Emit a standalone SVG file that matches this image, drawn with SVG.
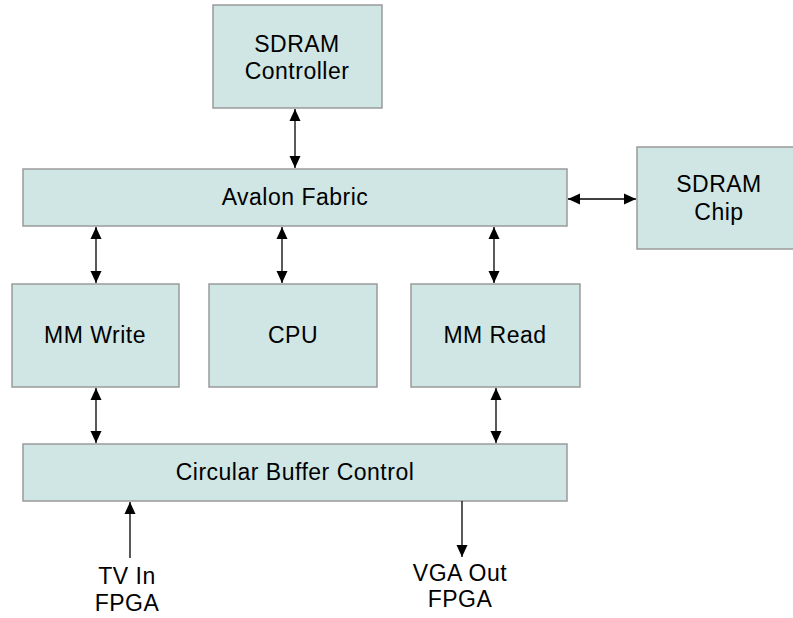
<svg xmlns="http://www.w3.org/2000/svg" width="793" height="618" viewBox="0 0 793 618">
<style>
.box{fill:#cfe6e4;stroke:#9a9a9a;stroke-width:1.5}
.t{font-family:"Liberation Sans",Arial,sans-serif;font-size:23px;letter-spacing:0.5px;fill:#000;text-anchor:middle}
.c{stroke:#000;stroke-width:1.3;fill:none;marker-end:url(#ah)}
.b{marker-start:url(#ahs)}
</style>
<defs>
<marker id="ah" viewBox="0 0 12 12" refX="12" refY="6" markerWidth="12" markerHeight="12" markerUnits="userSpaceOnUse" orient="auto"><path d="M0,0.5L12,6L0,11.5z" fill="#000"/></marker>
<marker id="ahs" viewBox="0 0 12 12" refX="0" refY="6" markerWidth="12" markerHeight="12" markerUnits="userSpaceOnUse" orient="auto"><path d="M12,0.5L0,6L12,11.5z" fill="#000"/></marker>
</defs>
<rect width="793" height="618" fill="#fff"/>
<g id="sdram-controller"><rect class="box" x="213" y="5" width="169" height="103"/><text class="t" x="297" y="52">SDRAM</text><text class="t" x="297" y="79">Controller</text></g>
<g id="avalon-fabric"><rect class="box" x="23" y="169" width="544" height="57"/><text class="t" x="295" y="205">Avalon Fabric</text></g>
<g id="sdram-chip"><rect class="box" x="637" y="147" width="158" height="102"/><text class="t" x="719" y="192">SDRAM</text><text class="t" x="719" y="220">Chip</text></g>
<g id="mm-write"><rect class="box" x="12" y="284" width="167" height="103"/><text class="t" x="95" y="343">MM Write</text></g>
<g id="cpu"><rect class="box" x="209" y="284" width="168" height="103"/><text class="t" x="293" y="343">CPU</text></g>
<g id="mm-read"><rect class="box" x="411" y="284" width="169" height="103"/><text class="t" x="495" y="343">MM Read</text></g>
<g id="circular-buffer-control"><rect class="box" x="23" y="444" width="544" height="57"/><text class="t" x="295" y="480">Circular Buffer Control</text></g>
<g id="tv-in"><text class="t" x="127" y="584">TV In</text><text class="t" x="127" y="611">FPGA</text></g>
<g id="vga-out"><text class="t" x="460" y="581">VGA Out</text><text class="t" x="460" y="607">FPGA</text></g>
<g id="connectors">
<line class="c b" x1="295" y1="109" x2="295" y2="168"/>
<line class="c b" x1="568" y1="199" x2="636" y2="199"/>
<line class="c b" x1="96" y1="227" x2="96" y2="283"/>
<line class="c b" x1="282" y1="227" x2="282" y2="283"/>
<line class="c b" x1="494" y1="227" x2="494" y2="283"/>
<line class="c b" x1="96" y1="388" x2="96" y2="443"/>
<line class="c b" x1="496" y1="388" x2="496" y2="443"/>
<line class="c" x1="130" y1="558" x2="130" y2="502"/>
<line class="c" x1="462" y1="501" x2="462" y2="557"/>
</g>
</svg>
